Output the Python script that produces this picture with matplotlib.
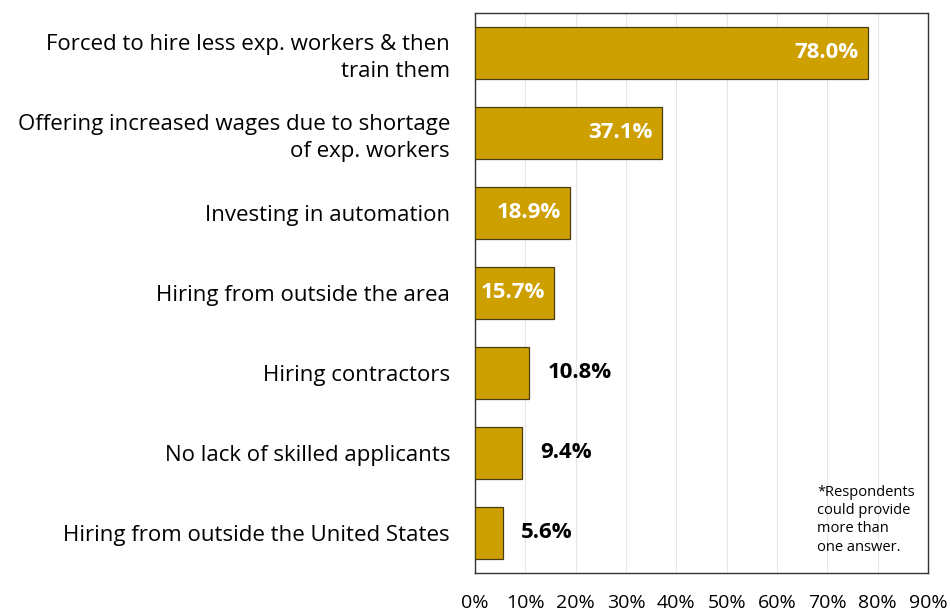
import matplotlib.pyplot as plt
import matplotlib.ticker as mticker

categories = [
    "Forced to hire less exp. workers & then\ntrain them",
    "Offering increased wages due to shortage\nof exp. workers",
    "Investing in automation",
    "Hiring from outside the area",
    "Hiring contractors",
    "No lack of skilled applicants",
    "Hiring from outside the United States",
]
values = [78.0, 37.1, 18.9, 15.7, 10.8, 9.4, 5.6]
x_ticks = [0, 10, 20, 30, 40, 50, 60, 70, 80, 90]

plt.rcParams['font.family'] = ['Open Sans', 'DejaVu Sans']

fig = plt.figure(figsize=(9.51, 6.13), dpi=100)
ax = fig.add_axes([0.4995, 0.0653, 0.4763, 0.9135])

pos = list(range(len(categories)))
ax.barh(pos, values, height=0.66, color='#CDA000', edgecolor='#4a3c14', linewidth=0.9, zorder=3)

ax.set_ylim(6.5, -0.5)
ax.set_xlim(0, 90)
ax.set_xticks(x_ticks)
ax.xaxis.set_major_formatter(mticker.FuncFormatter(lambda v, p: f"{v:.0f}%"))
ax.set_yticks(pos)
ax.set_yticklabels(categories, fontsize=16, ha='right', linespacing=1.35)
ax.tick_params(axis='y', length=0, pad=18)
ax.tick_params(axis='x', length=0, pad=15, labelsize=14)
ax.grid(axis='x', color='#e6e6e6', linewidth=0.8, zorder=0)

for s in ax.spines.values():
    s.set_color('#333333')
    s.set_linewidth(1.0)

# value labels: inside (white) for the big bars, outside (black) for the small ones
for i, v in enumerate(values):
    if v > 15:
        ax.text(v - 1.8, i, f"{v:.1f}%", ha='right', va='center', color='white',
                fontsize=16, fontweight='bold', zorder=4)
    else:
        ax.text(v + 3.6, i, f"{v:.1f}%", ha='left', va='center', color='black',
                fontsize=16, fontweight='bold', zorder=4)

ax.text(0.755, 0.095, "*Respondents\ncould provide\nmore than\none answer.",
        transform=ax.transAxes, fontsize=10.5, ha='left', va='center', linespacing=1.3)

fig.savefig('out.png', dpi=100, facecolor='white')
